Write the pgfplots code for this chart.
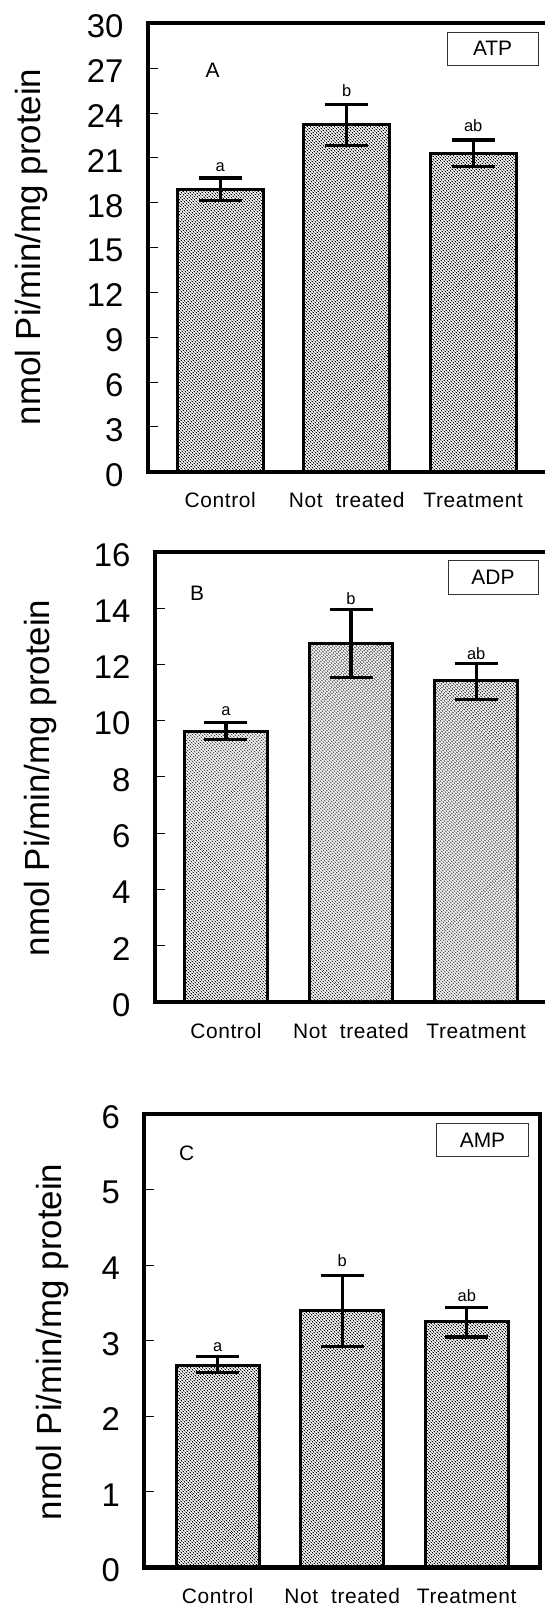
\documentclass[border=0pt]{standalone}
\usepackage{fontspec}
\setmainfont{Liberation Sans}
\usepackage{pgfplots}
\pgfplotsset{compat=1.18}
\usetikzlibrary{patterns.meta}

\pgfplotstableread{
x y ep em
0 18.9 0.75 0.75
1 23.2 1.35 1.35
2 21.3 0.90 0.90
}\atpdata
\pgfplotstableread{
x y ep em
0 9.63 0.31 0.29
1 12.75 1.20 1.22
2 11.42 0.62 0.66
}\adpdata
\pgfplotstableread{
x y ep em
0 2.68 0.11 0.10
1 3.40 0.47 0.47
2 3.25 0.19 0.20
}\ampdata

\tikzset{letter/.style={font=\fontsize{16.5}{20}\selectfont}}

\pgfplotsset{
  panel/.style={
    scale only axis,
    anchor=south west,
    ymin=0,
    axis line style={line width=4bp},
    tick align=inside,
    ytick pos=left,
    xtick={0,1,2},
    xticklabels={Control,{Not\ \ treated},Treatment},
    xtick style={draw=none},
    major tick length=10bp,
    ytick style={line width=1bp, black},
    /pgf/number format/assume math mode=true,
    yticklabel style={anchor=east, inner sep=0pt, xshift=-24bp, yshift=-3bp, font=\fontsize{33}{39}\selectfont},
    xticklabel style={anchor=base, inner sep=0pt, yshift=-36bp, font=\fontsize{21}{25}\selectfont\addfontfeatures{LetterSpace=3}},
    clip=false,
  },
  barstyle/.style={
    ybar, draw=black, line width=3bp,
    pattern={Lines[angle=-45,distance=2.83bp,line width=1.4bp]}, pattern color=black,
    error bars/.cd, y dir=both, y explicit,
    error bar style={line width=3.2bp, black, solid},
    error mark options={rotate=90, mark size=21.5bp, line width=3.2bp, black},
  },
}

\begin{document}
\begin{tikzpicture}
\path[use as bounding box] (0bp,0bp) rectangle (545bp,1608bp);
% Panel A
\begin{axis}[panel, at={(147.7bp,1136.3bp)}, width=439.3bp, height=448.3bp,
  xmin=-0.573, xmax=2.9, ymax=30, ytick={0,3,...,30}]
\addplot[bar width=85.8bp, barstyle] table[x=x,y=y,y error plus=ep,y error minus=em] {\atpdata};
\node[letter] at (axis cs:0,20.35) {a};
\node[letter] at (axis cs:1,25.5) {b};
\node[letter] at (axis cs:2,23.16) {ab};
\end{axis}
% Panel B
\begin{axis}[panel, at={(154.7bp,605.7bp)}, width=434.1bp, height=450.6bp,
  xmin=-0.569, xmax=2.9, ymax=16, ytick={0,2,...,16}]
\addplot[bar width=83.5bp, barstyle] table[x=x,y=y,y error plus=ep,y error minus=em] {\adpdata};
\node[letter] at (axis cs:0,10.35) {a};
\node[letter] at (axis cs:1,14.32) {b};
\node[letter] at (axis cs:2,12.39) {ab};
\end{axis}
% Panel C
\begin{axis}[panel, at={(144.2bp,40.5bp)}, width=395.6bp, height=453.3bp,
  xmin=-0.589, xmax=2.586, ymax=6, ytick={0,1,...,6}]
\addplot[bar width=83bp, barstyle] table[x=x,y=y,y error plus=ep,y error minus=em] {\ampdata};
\node[letter] at (axis cs:0,2.91) {a};
\node[letter] at (axis cs:1,4.06) {b};
\node[letter] at (axis cs:2,3.60) {ab};
\end{axis}

% y labels
\node[rotate=90, font=\fontsize{35}{42}\selectfont] at (31bp,1361bp) {nmol Pi/min/mg protein};
\node[rotate=90, font=\fontsize{35}{42}\selectfont] at (40bp,830bp) {nmol Pi/min/mg protein};
\node[rotate=90, font=\fontsize{35}{42}\selectfont] at (52bp,266bp) {nmol Pi/min/mg protein};

% panel letters
\node[font=\fontsize{21}{25}\selectfont] at (212.7bp,1537.3bp) {A};
\node[font=\fontsize{21}{25}\selectfont] at (197bp,1014.7bp) {B};
\node[font=\fontsize{21}{25}\selectfont] at (186.7bp,454.3bp) {C};

% boxed names
\draw[line width=0.9bp, black!80] (447.3bp,1543bp) rectangle (538bp,1575.7bp);
\node[font=\fontsize{21}{25}\selectfont] at (492.6bp,1559.3bp) {ATP};
\draw[line width=0.9bp, black!80] (448bp,1014bp) rectangle (538bp,1047.3bp);
\node[font=\fontsize{21}{25}\selectfont] at (493bp,1030.7bp) {ADP};
\draw[line width=0.9bp, black!80] (436.6bp,451.5bp) rectangle (528.3bp,484.4bp);
\node[font=\fontsize{21}{25}\selectfont] at (482.5bp,468bp) {AMP};
\end{tikzpicture}
\end{document}
